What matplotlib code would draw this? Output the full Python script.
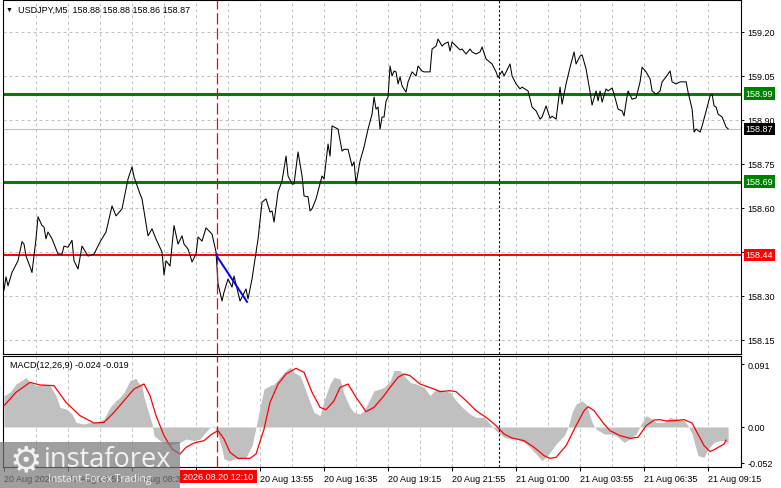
import matplotlib
matplotlib.use("Agg")
import matplotlib.pyplot as plt
import matplotlib.transforms as mtransforms
from matplotlib.patches import Rectangle

plt.rcParams['font.family'] = ['Liberation Sans', 'DejaVu Sans']

# --- price (bar number, close) ---
price_bar = [0, 1, 2, 4, 7, 9, 10, 11, 13, 14,
             16, 17, 19, 20, 21, 22, 24, 27, 29, 30,
             32, 34, 35, 37, 39, 42, 45, 48, 51, 54,
             56, 59, 62, 64, 65, 68, 69, 72, 74, 76,
             79, 80, 81, 83, 85, 87, 89, 90, 92, 94,
             96, 97, 99, 101, 104, 106, 107, 109, 110, 112,
             114, 115, 118, 121, 122, 124, 127, 129, 131, 133,
             134, 135, 137, 139, 141, 142, 144, 145, 147, 149,
             150, 152, 153, 154, 156, 159, 160, 162, 163, 164,
             167, 169, 170, 172, 174, 175, 176, 178, 180, 182,
             184, 185, 186, 187, 188, 189, 190, 191, 192, 193,
             194, 195, 196, 197, 198, 199, 201, 202, 204, 206,
             207, 209, 210, 213, 214, 216, 217, 219, 220, 222,
             223, 224, 226, 228, 229, 231, 233, 234, 236, 238,
             239, 241, 244, 246, 247, 249, 250, 253, 254, 256,
             258, 259, 262, 264, 266, 268, 269, 271, 273, 274,
             276, 278, 279, 281, 283, 285, 286, 288, 289, 291,
             293, 294, 296, 297, 298, 299, 301, 302, 304, 305,
             307, 309, 310, 311, 312, 314, 316, 318, 319, 321,
             323, 324, 326, 328, 329, 331, 333, 334, 336, 338,
             341, 342, 344, 345, 346, 348, 349, 351, 353, 354,
             355, 356, 357, 359, 361, 362]
price_close = [158.32, 158.365, 158.335, 158.38, 158.42, 158.485, 158.477, 158.436, 158.40, 158.38,
               158.495, 158.57, 158.54, 158.535, 158.495, 158.518, 158.495, 158.443, 158.443, 158.47,
               158.466, 158.49, 158.42, 158.392, 158.47, 158.436, 158.443, 158.484, 158.518, 158.607,
               158.573, 158.597, 158.699, 158.74, 158.706, 158.648, 158.631, 158.505, 158.529, 158.494,
               158.45, 158.372, 158.42, 158.402, 158.54, 158.477, 158.505, 158.477, 158.46, 158.416,
               158.443, 158.501, 158.487, 158.532, 158.511, 158.45, 158.341, 158.283, 158.313, 158.358,
               158.33, 158.368, 158.283, 158.324, 158.29, 158.358, 158.494, 158.62, 158.631, 158.586,
               158.59, 158.552, 158.655, 158.692, 158.777, 158.709, 158.682, 158.682, 158.791, 158.709,
               158.641, 158.638, 158.59, 158.597, 158.631, 158.709, 158.699, 158.818, 158.777, 158.88,
               158.869, 158.794, 158.80, 158.80, 158.743, 158.757, 158.682, 158.76, 158.808, 158.869,
               158.92, 158.978, 158.937, 158.944, 158.869, 158.91, 158.91, 158.965, 158.978, 159.084,
               159.05, 159.067, 159.064, 159.023, 159.047, 159.016, 158.995, 159.03, 159.064, 159.05,
               159.084, 159.067, 159.064, 159.064, 159.142, 159.152, 159.176, 159.152, 159.159, 159.166,
               159.135, 159.166, 159.152, 159.139, 159.142, 159.125, 159.142, 159.132, 159.125, 159.132,
               159.149, 159.108, 159.091, 159.064, 159.045, 159.067, 159.05, 159.091, 159.05, 159.023,
               159.006, 159.012, 158.999, 158.944, 158.931, 158.903, 158.91, 158.948, 158.906, 158.913,
               158.903, 159.012, 158.954, 159.023, 159.08, 159.132, 159.091, 159.118, 159.122, 159.074,
               158.995, 158.951, 158.999, 158.965, 158.999, 158.961, 159.006, 158.999, 159.009, 158.988,
               158.937, 158.931, 158.914, 158.961, 158.999, 158.971, 158.975, 159.03, 159.08, 159.064,
               159.04, 158.999, 158.988, 158.999, 159.03, 159.047, 159.067, 159.03, 159.023, 159.03,
               159.03, 158.995, 158.937, 158.859, 158.869, 158.859, 158.879, 158.931, 158.982, 158.988,
               158.948, 158.944, 158.92, 158.91, 158.876, 158.87]

header_ohlc = [158.88, 158.88, 158.86, 158.87]
green_levels = [158.99, 158.69]
red_level = 158.44
last_price = 158.87

# blue signal segment (sell from 158.44)
signal_bar = [106, 121.5]
signal_price = [158.44, 158.28]

# --- MACD(12,26,9) ---
hist_bar = [0, 3, 6, 10, 11, 13, 15, 16, 20, 23,
            26, 28, 31, 34, 36, 40, 43, 46, 50, 53,
            56, 58, 60, 63, 66, 67, 69, 70, 72, 74,
            75, 78, 80, 83, 85, 88, 91, 95, 98, 100,
            103, 105, 107, 109, 110, 113, 115, 118, 121, 124,
            126, 128, 130, 133, 135, 138, 140, 143, 145, 148,
            150, 153, 155, 158, 160, 163, 165, 168, 170, 173,
            175, 178, 180, 183, 185, 188, 190, 193, 195, 198,
            200, 203, 206, 210, 213, 216, 220, 223, 226, 230,
            233, 236, 240, 243, 246, 250, 253, 256, 260, 263,
            266, 269, 270, 273, 276, 280, 282, 284, 286, 289,
            291, 294, 296, 300, 303, 306, 310, 313, 316, 319,
            321, 324, 326, 330, 333, 336, 340, 342, 344, 346,
            347, 350, 352, 355, 358, 360, 362]
hist_val = [0.0453, 0.0501, 0.0621, 0.0694, 0.0718, 0.0645, 0.0621, 0.0597, 0.0621, 0.0597,
            0.0453, 0.0284, 0.026, 0.0188, 0.0067, 0.0043, 0.0067, 0.0067, 0.0116, 0.0284,
            0.038, 0.0429, 0.0501, 0.067, 0.0703, 0.0645, 0.0597, 0.0429, 0.0236, 0.0043,
            -0.0125, -0.0197, -0.0222, -0.027, -0.0246, -0.0222, -0.0173, -0.0197, -0.0173, -0.0101,
            -0.0005, 0.0019, -0.0125, -0.0318, -0.0462, -0.0487, -0.0462, -0.0462, -0.0438, -0.027,
            -0.0005, 0.0284, 0.0549, 0.0597, 0.0621, 0.0718, 0.079, 0.0862, 0.079, 0.0742,
            0.0597, 0.0356, 0.0212, 0.0164, 0.038, 0.0621, 0.0718, 0.0694, 0.0477, 0.0284,
            0.0212, 0.0188, 0.0236, 0.0405, 0.0525, 0.0549, 0.0573, 0.066, 0.082, 0.0814,
            0.0742, 0.0645, 0.0621, 0.0573, 0.0453, 0.0549, 0.0525, 0.0501, 0.038, 0.026,
            0.0188, 0.014, 0.014, 0.0043, -0.0053, -0.0149, -0.0173, -0.0173, -0.0222, -0.0294,
            -0.039, -0.0487, -0.0462, -0.0366, -0.0246, -0.0125, -0.0005, 0.0212, 0.0332, 0.038,
            0.0332, 0.0067, -0.0029, -0.0101, -0.0101, -0.0125, -0.0222, -0.0173, -0.0101, 0.0067,
            0.0164, 0.0116, 0.0067, 0.0067, 0.014, 0.0116, 0.0092, 0.0019, -0.0101, -0.0318,
            -0.0414, -0.0438, -0.0318, -0.0222, -0.0197, -0.0197, -0.024]
sig_bar = [0, 6, 13, 18, 25, 31, 38, 45, 50, 55,
           60, 65, 70, 73, 76, 80, 84, 88, 91, 95,
           100, 104, 107, 110, 113, 117, 123, 126, 130, 133,
           137, 141, 146, 150, 154, 158, 161, 165, 168, 172,
           176, 181, 185, 190, 193, 197, 200, 203, 208, 215,
           218, 223, 226, 231, 236, 241, 246, 250, 254, 260,
           265, 270, 273, 276, 281, 286, 290, 292, 295, 300,
           303, 308, 313, 317, 321, 325, 328, 331, 335, 340,
           344, 346, 350, 353, 355, 360, 361]
sig_val = [0.0308, 0.0501, 0.0645, 0.0607, 0.0597, 0.0356, 0.0164, 0.0058, 0.0067, 0.0212,
           0.038, 0.0549, 0.0621, 0.0453, 0.0164, -0.0125, -0.0318, -0.039, -0.0294, -0.0231,
           -0.0197, -0.0101, -0.0053, -0.0173, -0.0366, -0.0453, -0.0453, -0.039, -0.0029, 0.0356,
           0.0621, 0.0766, 0.0848, 0.079, 0.0501, 0.0284, 0.025, 0.038, 0.0573, 0.0621,
           0.0429, 0.0222, 0.0284, 0.0453, 0.0573, 0.0718, 0.0766, 0.0742, 0.0621, 0.0549,
           0.0511, 0.0525, 0.0511, 0.038, 0.0236, 0.014, 0.0019, -0.0101, -0.0159, -0.0197,
           -0.0294, -0.0414, -0.0453, -0.0438, -0.027, 0.0019, 0.0236, 0.0294, 0.0236, 0.0043,
           -0.0053, -0.0125, -0.0164, -0.0149, 0.0019, 0.0101, 0.0106, 0.0087, 0.0092, 0.0106,
           0.0058, -0.0053, -0.027, -0.0356, -0.0328, -0.0246, -0.019]
macd_last = -0.024
signal_last = -0.019

# --- axes labels (labels hidden behind tags left empty) ---
price_ticks = [158.15, 158.30, 158.45, 158.60, 158.75, 158.90, 159.05, 159.20]
price_tick_labels = ["158.15", "158.30", "", "158.60", "158.75", "158.90", "159.05", "159.20"]
macd_ticks = [0.091, 0.0, -0.052]
macd_tick_labels = ["0.091", "0.00", "-0.052"]
time_bar = [0, 32, 64, 96, 128, 160, 192, 224, 256, 288, 320, 352]
time_labels = ["20 Aug 2026", "20 Aug 05:55", "20 Aug 08:35", "",
               "20 Aug 13:55", "20 Aug 16:35", "20 Aug 19:15", "20 Aug 21:55",
               "21 Aug 01:00", "21 Aug 03:55", "21 Aug 06:35", "21 Aug 09:15"]
cursor_bar = 106.5
cursor_label = "2026.08.20 12:10"
day_sep_bar = 247.5

GRID = "#C0C0C0"
GREEN = "#008000"
RED = "#FF0000"
FS = 6.5

W, H = 781, 489
fig = plt.figure(figsize=(W / 100, H / 100), dpi=100)
ax = fig.add_axes([3 / W, 1 - 355 / H, 737.7 / W, 354 / H])
ax2 = fig.add_axes([3 / W, 1 - 468 / H, 737.7 / W, 111 / H])

for a in (ax, ax2):
    a.set_xlim(-0.5, 368.3)
    for s in a.spines.values():
        s.set_linewidth(0.8)
        s.set_color("black")
    for b in range(16, 368, 16):
        a.axvline(b, color=GRID, lw=0.72, ls=(0, (3, 3)), zorder=0)
    a.axvline(cursor_bar, color=RED, lw=0.9, ls=(0, (9, 3)), zorder=4)
    a.axvline(day_sep_bar, color="black", lw=0.8, ls=(0, (2, 2)), zorder=4)

# main price panel
ax.set_ylim(159.3125 - 355 / 293.3, 159.3125 - 1 / 293.3)
for p in price_ticks:
    ax.axhline(p, color=GRID, lw=0.72, ls=(0, (3, 3)), zorder=0)
ax.axhline(last_price, color=GRID, lw=0.8, zorder=1)
for lvl in green_levels:
    ax.axhline(lvl, color=GREEN, lw=2.2, zorder=2)
ax.axhline(red_level, color=RED, lw=1.4, zorder=2)
ax.plot(price_bar, price_close, color="black", lw=0.75, zorder=3)
ax.plot(signal_bar, signal_price, color="#0000FF", lw=1.4, zorder=5)

ax.yaxis.tick_right()
ax.set_yticks(price_ticks, price_tick_labels)
ax.tick_params(axis="y", labelsize=FS, length=2.5, width=0.7, pad=2.5)
ax.set_xticks([])

trans = mtransforms.blended_transform_factory(ax.transAxes, ax.transData)


def price_tag(y, bg):
    ax.text(1.0065, y, f"{y:.2f}", transform=trans, ha="left", va="center",
            fontsize=FS, color="white", zorder=10, clip_on=False,
            bbox=dict(boxstyle="square,pad=0.18", fc=bg, ec="none"))


for lvl in green_levels:
    price_tag(lvl, GREEN)
price_tag(red_level, RED)
price_tag(last_price, "black")

# MACD panel
ax2.set_ylim((428 - 468) / 692, (428 - 357) / 692)
ax2.fill_between(hist_bar, 0, hist_val, color="#C0C0C0", lw=0, zorder=1)
ax2.plot(sig_bar, sig_val, color=RED, lw=0.9, zorder=3)
ax2.yaxis.tick_right()
ax2.set_yticks(macd_ticks, macd_tick_labels)
ax2.tick_params(axis="y", labelsize=FS, length=2.5, width=0.7, pad=2.5)
ax2.set_xticks(time_bar, time_labels)
ax2.tick_params(axis="x", labelsize=FS, length=3, width=0.7, pad=2)
for lbl in ax2.get_xticklabels():
    lbl.set_horizontalalignment("left")

ax2.text(7 / 737.7, 1 - 9 / 111, f"MACD(12,26,9) {macd_last:.3f} {signal_last:.3f}",
         transform=ax2.transAxes, fontsize=FS, va="center", ha="left")

# header
fig.text(6 / W, 1 - 10 / H, "\u25BC", fontsize=5, va="center", ha="left")
fig.text(18 / W, 1 - 10 / H,
         "USDJPY,M5  " + " ".join(f"{v:.2f}" for v in header_ohlc),
         fontsize=FS, va="center", ha="left")

# cursor date box
fig.patches.append(Rectangle((180 / W, 1 - 484 / H), 77 / W, 13 / H,
                             transform=fig.transFigure, fc=RED, ec="none", zorder=5))
fig.text(218.5 / W, 1 - 477.5 / H, cursor_label, color="white", fontsize=FS,
         ha="center", va="center", zorder=6)

# watermark
fig.patches.append(Rectangle((0, 0), 180 / W, 46 / H, transform=fig.transFigure,
                             fc="#7a7a7a", ec="none", alpha=0.72, zorder=7))
fig.text(26 / W, 1 - 461 / H, "\u2699", color="#f2f2f2", fontsize=26,
         ha="center", va="center", zorder=8, family=["DejaVu Sans"])
fig.text(44 / W, 1 - 460 / H, "instaforex", color="#f2f2f2", fontsize=19.5,
         ha="left", va="center", zorder=8, family=["Open Sans", "DejaVu Sans"])
fig.text(48 / W, 1 - 480 / H, "Instant Forex Trading", color="#f2f2f2", fontsize=7.5,
         ha="left", va="center", zorder=8, family=["Open Sans", "DejaVu Sans"])

fig.savefig("out.png", dpi=100, facecolor="white")
